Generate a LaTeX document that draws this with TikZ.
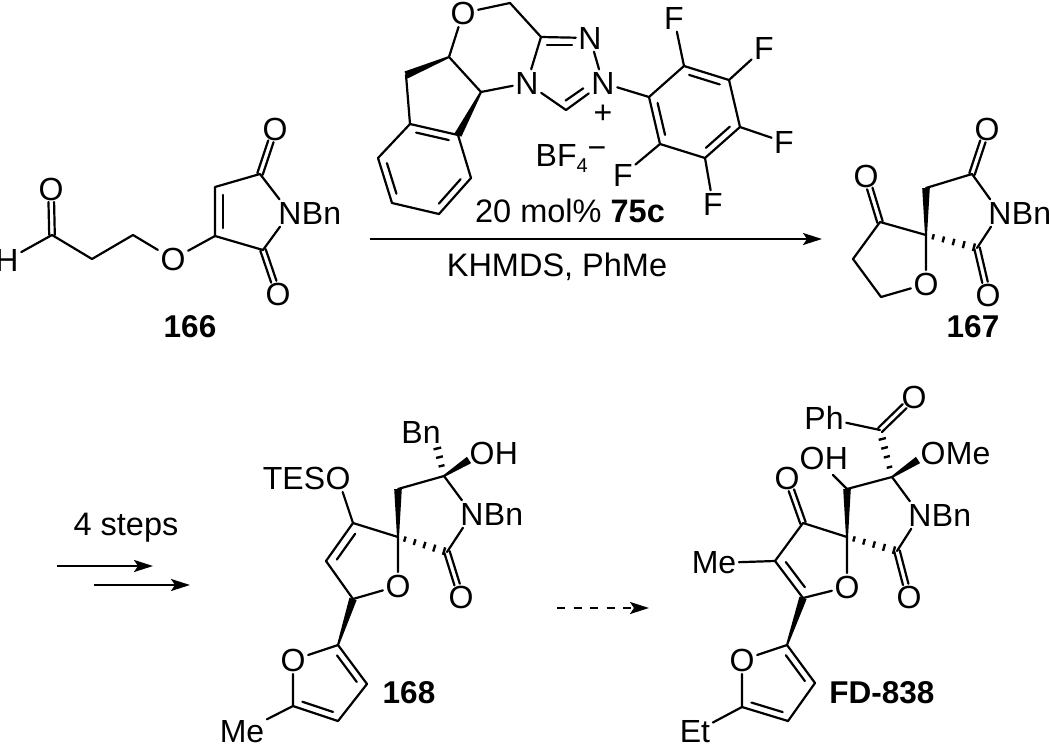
\documentclass[tikz,border=0pt]{standalone}
\usepackage{fontspec}
\setmainfont{Liberation Sans}
\usepackage{tikz}
\usetikzlibrary{calc,arrows.meta}
\tikzstyle{bond}=[line width=2.2pt, line cap=round, line join=round]
\tikzstyle{atom}=[inner sep=2.5pt, font=\fontsize{32}{38}\selectfont]
\tikzstyle{tail}=[atom, anchor=base west, xshift=-5pt]
\tikzstyle{head}=[atom, anchor=base east, xshift=5pt]
\tikzstyle{code}=[inner sep=0pt, font=\fontsize{31.5}{37}\selectfont\bfseries]
\tikzstyle{reagent}=[inner sep=0pt, font=\fontsize{32.5}{38}\selectfont]
\tikzstyle{rxn}=[line width=2pt, -{Stealth[length=19pt,width=12pt,inset=4pt]}]
% narrow end first
\newcommand{\wedgebond}[2]{\fill ($(#1)!1pt!90:(#2)$) -- ($(#2)!3.8pt!-90:(#1)$) -- ($(#2)!3.8pt!90:(#1)$) -- ($(#1)!1pt!-90:(#2)$) -- cycle;}
\newcommand{\hashbond}[3]{\foreach \t in {#3}{\draw[line width=2.4pt] ($(#1)!\t!(#2)!2.5pt+\t*1.5pt!90:(#2)$) -- ($(#1)!\t!(#2)!2.5pt+\t*1.5pt!-90:(#2)$);}}
% second line of a ring double bond, on the side given by the sign of #3
\newcommand{\innerbond}[3]{\draw[bond] ($(#1)!.16!(#2)!#3!90:(#2)$) -- ($(#1)!.84!(#2)!#3!90:(#2)$);}
\newcommand{\carbonyl}[2]{\draw[bond, shorten >=13pt] ($(#1)!2.8pt!90:(#2)$) -- ($(#2)!2.8pt!-90:(#1)$); \draw[bond, shorten >=13pt] ($(#1)!2.8pt!-90:(#2)$) -- ($(#2)!2.8pt!90:(#1)$);}
\begin{document}
\begin{tikzpicture}[x=1pt,y=-1pt]
\useasboundingbox (0,0) rectangle (1050,747);
% 166
\node [atom] (ah) at (7,260) {H};
\node [atom] (ao) at (51,189) {O};
\node [atom] (ao2) at (173,259) {O};
\node [atom] (an) at (290,213) {N};
\node [tail] (anbn) at (an.base east) {Bn};
\node [atom] (ao3) at (275,129) {O};
\node [atom] (ao4) at (278,294) {O};
\node [code] (l166) at (190,327) {166};
\coordinate (a1) at (52,235);
\coordinate (a2) at (92,259);
\coordinate (a3) at (133,235);
\coordinate (a4) at (215,236);
\coordinate (a5) at (215,187);
\coordinate (a6) at (260,174);
\coordinate (a7) at (263,250);
\draw[bond] (ah) -- (a1) -- (a2) -- (a3) -- (ao2) -- (a4) -- (a5) -- (a6) -- (an) -- (a7) -- (a4);
\carbonyl{a1}{ao}
\carbonyl{a6}{ao3}
\carbonyl{a7}{ao4}
\innerbond{a4}{a5}{-8pt}
% catalyst 75c
\node [atom] (co) at (463,13) {O};
\node [atom] (cn1) at (590,38) {N};
\node [atom] (cn2) at (603,83) {N};
\node [atom] (cn3) at (527,83) {N};
\node [atom, inner sep=0pt] (cplus) at (603,114) {+};
\node [atom] (cbf) at (533,158) [anchor=west] {BF\raisebox{-6pt}{\fontsize{20}{24}\selectfont 4}\raisebox{8pt}{−}};
\coordinate (c1) at (510,3);
\coordinate (c2) at (541,37);
\coordinate (c3) at (566,110);
\coordinate (c4) at (481,92);
\coordinate (c5) at (449,57);
\coordinate (c6) at (406,75);
\coordinate (c7) at (410,124);
\coordinate (c8) at (458,135);
\coordinate (c9) at (471,178);
\coordinate (c10) at (439,214);
\coordinate (c11) at (392,203);
\coordinate (c12) at (378,158);
\coordinate (cn1e) at (578,37);
\coordinate (cn2e) at (592,92);
\draw[bond] (co) -- (c1) -- (c2) -- (cn3) -- (c3) -- (cn2) -- (cn1) -- (c2);
\draw[bond] (co) -- (c5) -- (c4) -- (cn3);
\draw[bond] (c6) -- (c7) -- (c8) -- (c9) -- (c10) -- (c11) -- (c12) -- (c7);
\innerbond{c2}{cn1e}{-8pt}
\innerbond{c3}{cn2e}{8pt}
\innerbond{c7}{c8}{-7pt}
\innerbond{c9}{c10}{-7pt}
\innerbond{c11}{c12}{-7pt}
\wedgebond{c5}{c6}
\wedgebond{c4}{c8}
\node [atom] (cf1) at (674,18) {F};
\node [atom] (cf2) at (764,48) {F};
\node [atom] (cf3) at (784,142) {F};
\node [atom] (cf4) at (713,204) {F};
\node [atom] (cf5) at (623,175) {F};
\coordinate (p1) at (649,97);
\coordinate (p2) at (684,66);
\coordinate (p3) at (729,80);
\coordinate (p4) at (740,127);
\coordinate (p5) at (705,158);
\coordinate (p6) at (660,144);
\draw[bond] (cn2) -- (p1) -- (p2) -- (p3) -- (p4) -- (p5) -- (p6) -- (p1);
\draw[bond] (p2) -- (cf1) (p3) -- (cf2) (p4) -- (cf3) (p5) -- (cf4) (p6) -- (cf5);
\innerbond{p2}{p3}{-7pt}
\innerbond{p4}{p5}{-7pt}
\innerbond{p6}{p1}{-7pt}
% first arrow
\node [reagent] (cat) at (570,211) {20 mol\% \textbf{75c}};
\node [reagent] (base) at (557,267) {KHMDS, PhMe};
\coordinate (r1s) at (370,239);
\coordinate (r1e) at (822,239);
\draw[rxn] (r1s) -- (r1e);
% 167
\node [atom] (bn) at (1000,213) {N};
\node [tail] (bnbn) at (bn.base east) {Bn};
\node [atom] (bo1) at (987,129) {O};
\node [atom] (bo2) at (988,295) {O};
\node [atom] (bo3) at (926,284) {O};
\node [atom] (bo4) at (866,176) {O};
\node [code] (l167) at (973,327) {167};
\coordinate (b1) at (926,235);
\coordinate (b2) at (926,188);
\coordinate (b3) at (972,174);
\coordinate (b4) at (977,248);
\coordinate (b5) at (881,297);
\coordinate (b6) at (853,259);
\coordinate (b7) at (880,222);
\draw[bond] (b2) -- (b3) -- (bn) -- (b4);
\draw[bond] (b1) -- (bo3) -- (b5) -- (b6) -- (b7) -- (b1);
\carbonyl{b3}{bo1}
\carbonyl{b4}{bo2}
\carbonyl{b7}{bo4}
\wedgebond{b1}{b2}
\hashbond{b1}{b4}{.14,.34,.54,.74,.94}
% second arrows
\node [reagent] (steps) at (126,528) {4 steps};
\coordinate (r2s) at (57,566);
\coordinate (r2e) at (153,566);
\coordinate (r3s) at (94,585);
\coordinate (r3e) at (190,585);
\draw[rxn] (r2s) -- (r2e);
\draw[rxn] (r3s) -- (r3e);
% 168
\node [atom] (dn) at (472,514) {N};
\node [tail] (dnbn) at (dn.base east) {Bn};
\node [atom] (do1) at (461,597) {O};
\node [atom] (do2) at (398,586) {O};
\node [atom] (do3) at (338,478) {O};
\node [head] (dtes) at (do3.base west) {TES};
\node [atom] (dbn) at (421,432) {Bn};
\node [atom] (do4) at (482,453) {O};
\node [tail] (doh) at (do4.base east) {H};
\node [atom] (do5) at (293,660) {O};
\node [atom] (dme) at (242,732) {Me};
\node [code] (l168) at (409,693) {168};
\coordinate (d1) at (398,537);
\coordinate (d2) at (398,489);
\coordinate (d3) at (444,476);
\coordinate (d4) at (447,552);
\coordinate (d5) at (353,599);
\coordinate (d6) at (326,561);
\coordinate (d7) at (353,523);
\coordinate (d8) at (338,645);
\coordinate (d9) at (293,706);
\coordinate (d10) at (338,721);
\coordinate (d11) at (367,684);
\coordinate (dw1) at (469,460);
\coordinate (dh1) at (437,447);
\draw[bond] (d2) -- (d3) -- (dn) -- (d4);
\draw[bond] (d1) -- (do2) -- (d5) -- (d6) -- (d7) -- (d1);
\draw[bond] (d7) -- (do3);
\draw[bond] (d8) -- (do5) -- (d9) -- (d10) -- (d11) -- (d8);
\draw[bond] (d9) -- (dme);
\carbonyl{d4}{do1}
\innerbond{d6}{d7}{-8pt}
\innerbond{d8}{d11}{-7pt}
\innerbond{d9}{d10}{7pt}
\wedgebond{d1}{d2}
\wedgebond{d8}{d5}
\wedgebond{d3}{dw1}
\hashbond{d1}{d4}{.14,.34,.54,.74,.94}
\hashbond{d3}{dh1}{.35,.65,.95}
% dashed arrow
\coordinate (r4s) at (557,608);
\coordinate (r4e) at (649,608);
\draw[rxn, dash pattern=on 8pt off 8.5pt] (r4s) -- (r4e);
% FD-838
\node [atom] (en) at (920,515) {N};
\node [tail] (enbn) at (en.base east) {Bn};
\node [atom] (eo1) at (909,597) {O};
\node [atom] (eo2) at (847,587) {O};
\node [atom] (eo3) at (787,478) {O};
\node [atom] (eme) at (714,563) {Me};
\node [atom] (eo4) at (812,458) {O};
\node [tail] (eoh) at (eo4.base east) {H};
\node [atom] (eo5) at (914,397) {O};
\node [atom] (eph) at (824,418) {Ph};
\node [atom] (eo6) at (933,453) {O};
\node [tail] (eome) at (eo6.base east) {Me};
\node [atom] (eo7) at (742,660) {O};
\node [atom] (eet) at (695,732) {Et};
\node [code] (lfd) at (882,693) {FD-838};
\coordinate (e1) at (847,537);
\coordinate (e2) at (847,489);
\coordinate (e3) at (892,477);
\coordinate (e4) at (897,551);
\coordinate (e5) at (803,598);
\coordinate (e6) at (775,561);
\coordinate (e7) at (803,523);
\coordinate (e8) at (880,430);
\coordinate (e9) at (787,645);
\coordinate (e10) at (742,707);
\coordinate (e11) at (788,721);
\coordinate (e12) at (815,683);
\coordinate (ew1) at (918,460);
\coordinate (eh1) at (833,475);
\draw[bond] (e2) -- (e3) -- (en) -- (e4);
\draw[bond] (e1) -- (eo2) -- (e5) -- (e6) -- (e7) -- (e1);
\draw[bond] (e2) -- (eh1);
\draw[bond] (e6) -- (eme);
\draw[bond] (eph) -- (e8);
\draw[bond] (e9) -- (eo7) -- (e10) -- (e11) -- (e12) -- (e9);
\draw[bond] (e10) -- (eet);
\carbonyl{e4}{eo1}
\carbonyl{e7}{eo3}
\carbonyl{e8}{eo5}
\innerbond{e6}{e5}{8pt}
\innerbond{e9}{e12}{-7pt}
\innerbond{e10}{e11}{7pt}
\wedgebond{e1}{e2}
\wedgebond{e9}{e5}
\wedgebond{e3}{ew1}
\hashbond{e1}{e4}{.14,.34,.54,.74,.94}
\hashbond{e3}{e8}{.21,.43,.62,.81}
\end{tikzpicture}
\end{document}
